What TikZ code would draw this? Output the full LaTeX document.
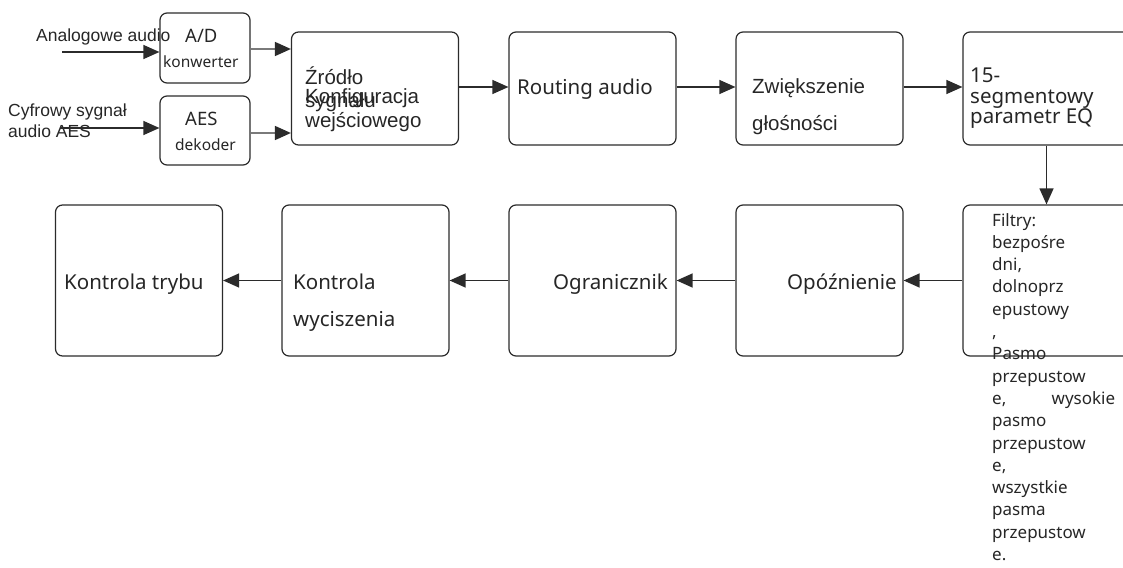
\documentclass[tikz,border=0pt]{standalone}
\usepackage{fontspec}
\setmainfont{Noto Sans}
\newfontfamily\arialf{Liberation Sans}
\usetikzlibrary{arrows.meta}

\definecolor{inkc}{HTML}{262626}
\definecolor{linec}{HTML}{2B2B2B}
\definecolor{grayl}{HTML}{7A7A7A}

\tikzset{
  box/.style={draw=linec, line width=1.2pt, rounded corners=7pt, inner sep=0pt,
              minimum width=167pt, minimum height=113pt},
  tall/.style={box, minimum height=151pt},
  small/.style={box, minimum width=90pt, minimum height=70pt},
  arr/.style={draw=linec, line width=1.3pt, -{Triangle[length=16pt,width=14pt]}},
  garr/.style={draw=grayl, line width=1.6pt, -{Triangle[length=16pt,width=14pt,color=linec]}},
  txt/.style={anchor=base west, inner sep=0pt, text=inkc},
  big/.style={txt, font=\fontsize{20.5pt}{24pt}\selectfont},
  bigA/.style={txt, font=\arialf\fontsize{20.5pt}{24pt}\selectfont},
  lab/.style={txt, font=\arialf\fontsize{17.5pt}{21pt}\selectfont},
  mid/.style={txt, font=\fontsize{18.5pt}{22pt}\selectfont},
  sml/.style={txt, font=\fontsize{15.5pt}{19pt}\selectfont},
  lst/.style={txt, font=\fontsize{17pt}{22pt}\selectfont},
}

\begin{document}
\begin{tikzpicture}[x=1pt, y=-1pt]
\useasboundingbox (0,0) rectangle (1123,567);
\clip (0,0) rectangle (1123,567);

% input converters
\node[small] (ad)  at (205,48) {};
\node[small, minimum height=69pt] (aes) at (205,130.5) {};

% top row
\node[box] (konf) at (375,88.5)    {};
\node[box] (rout) at (592.5,88.5)  {};
\node[box] (zw)   at (819.5,88.5)  {};
\node[box] (eq)   at (1046.5,88.5) {};

% bottom row
\node[tall] (tryb) at (139,280.5)    {};
\node[tall] (wyc)  at (365.5,280.5)  {};
\node[tall] (ogr)  at (592.5,280.5)  {};
\node[tall] (opo)  at (819.5,280.5)  {};
\node[tall] (filt) at (1046.5,280.5) {};

% labels of the inputs
\node[lab] (tan) at (36,42) {Analogowe audio};
\node[lab] (tcy1) at (8,117) {Cyfrowy sygnał};
\node[lab] (tcy2) at (8,137) {audio AES};

\node[mid] (tad)  at (185,43)  {A/D};
\node[sml] (tkon) at (163,68)  {konwerter};
\node[mid] (taes) at (185,125) {AES};
\node[sml] (tdek) at (175,150) {dekoder};

% input configuration box (two overlapping captions)
\node[bigA] (k1) at (305,85)  {Źródło};
\node[bigA] (k2) at (305,107) {sygnału};
\node[bigA] (k3) at (305,128) {wejściowego};
\node[bigA] (k4) at (305,104) {Konfiguracja};

\node[big] (trout) at (517,95) {Routing audio};
\node[bigA] (tzw1) at (752,94)  {Zwiększenie};
\node[bigA] (tzw2) at (752,131) {głośności};

\node[big] (teq1) at (970,83)  {15-};
\node[big] (teq2) at (970,103) {segmentowy};
\node[big] (teq3) at (970,123) {parametr EQ};

% filter list
\foreach \t [count=\i] in {{Filtry:},{bezpośre},{dni,},{dolnoprz},{epustowy},{,},{Pasmo},
  {przepustow},{\makebox[123pt][s]{e, wysokie}},{pasmo},{przepustow},{e,},{wszystkie},
  {pasma},{przepustow},{e.}}
  \node[lst] (fl\i) at (992,{226+22.3*(\i-1)}) {\t};

\node[big] (ttryb) at (64,289)  {Kontrola trybu};
\node[big] (twyc1) at (293,289) {Kontrola};
\node[big] (twyc2) at (293,326) {wyciszenia};
\node[big] (togr)  at (553,289) {Ogranicznik};
\node[big] (topo)  at (787,289) {Opóźnienie};

% connectors
\coordinate (inA) at (62,52);
\coordinate (inD) at (60,128);
\draw[arr] (inA) -- (inA -| ad.west);
\draw[arr] (inD) -- (inD -| aes.west);

\draw[garr] ([yshift=-1pt]ad.east) -- ([yshift=-1pt]ad.east -| konf.west);
\draw[garr] ([yshift=-2.5pt]aes.east) -- ([yshift=-2.5pt]aes.east -| konf.west);

\draw[arr] ([yshift=1.5pt]konf.east) -- ([yshift=1.5pt]rout.west);
\draw[arr] ([yshift=1.5pt]rout.east) -- ([yshift=1.5pt]zw.west);
\draw[arr] ([yshift=1.5pt]zw.east)   -- ([yshift=1.5pt]eq.west);
\draw[arr] (eq.south) -- (filt.north);

\draw[arr] (filt.west) -- (opo.east);
\draw[arr] (opo.west)  -- (ogr.east);
\draw[arr] (ogr.west)  -- (wyc.east);
\draw[arr] (wyc.west)  -- (tryb.east);
\end{tikzpicture}
\end{document}
